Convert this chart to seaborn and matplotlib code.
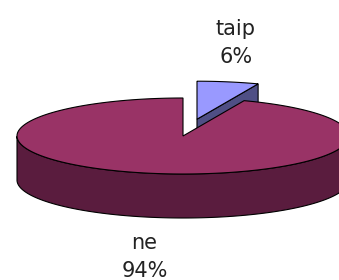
import numpy as np
import matplotlib
matplotlib.use("Agg")
import matplotlib.pyplot as plt
import seaborn as sns

# data
labels = ["taip", "ne"]
values = [6, 94]

top_colors = ["#9999ff", "#993366"]
side_colors = ["#4f4f85", "#5a1c3e"]

sns.set_theme(style="white")
plt.rcParams["font.family"] = ["DejaVu Sans"]

# layout of the 3d pie (pixel units)
cx, cy = 183, 136
rx, ry = 166, 38
depth = 44
explode = [0.45, 0.0]
label_gap = 40


def rim(t, dx=0.0, dy=0.0, down=0.0):
    return cx + dx + rx * np.cos(t), cy + dy - ry * np.sin(t) + down


fig = plt.figure(figsize=(3.39, 2.80), dpi=100)
ax = fig.add_axes([0, 0, 1, 1])
ax.set_xlim(0, 339)
ax.set_ylim(280, 0)
ax.axis("off")

total = sum(values)
slices = []
a0 = np.pi / 2
for i, v in enumerate(values):
    a1 = a0 - 2 * np.pi * v / total
    mid = (a0 + a1) / 2
    dx = explode[i] * rx * np.cos(mid)
    dy = -explode[i] * ry * np.sin(mid)
    slices.append((i, a0, a1, mid, dx, dy))
    a0 = a1

# back slices first
slices.sort(key=lambda s: -np.sin(s[3]))

for i, a0, a1, mid, dx, dy in slices:
    ec = dict(edgecolor="black", linewidth=0.8)
    # outer wall, front part only
    t = np.linspace(a1, a0, 600)
    t = t[np.sin(t) <= 0]
    if len(t) > 1:
        xs, ys = rim(t, dx, dy)
        xb, yb = rim(t[::-1], dx, dy, depth)
        ax.fill(np.r_[xs, xb], np.r_[ys, yb], facecolor=side_colors[i], **ec)
    # radial faces facing the viewer
    for ang, vis in ((a0, np.cos(a0) < -1e-9), (a1, np.cos(a1) > 1e-9)):
        if vis:
            px, py = rim(ang, dx, dy)
            ax.fill([cx + dx, px, px, cx + dx],
                    [cy + dy, py, py + depth, cy + dy + depth],
                    facecolor=side_colors[i], **ec)
    # top
    t = np.linspace(a0, a1, 600)
    xs, ys = rim(t, dx, dy)
    ax.fill(np.r_[cx + dx, xs], np.r_[cy + dy, ys], facecolor=top_colors[i], **ec)

# labels
for i, a0, a1, mid, dx, dy in slices:
    px, py = rim(mid, dx, dy, depth if np.sin(mid) < 0 else 0)
    lx = px + label_gap * np.cos(mid)
    ly = py - label_gap * np.sin(mid)
    pct = round(100 * values[i] / total)
    ax.text(lx, ly, f"{labels[i]}\n{pct}%", ha="center", va="center",
            fontsize=15, color="#222222", linespacing=1.5)

fig.savefig("out.png", dpi=100)
